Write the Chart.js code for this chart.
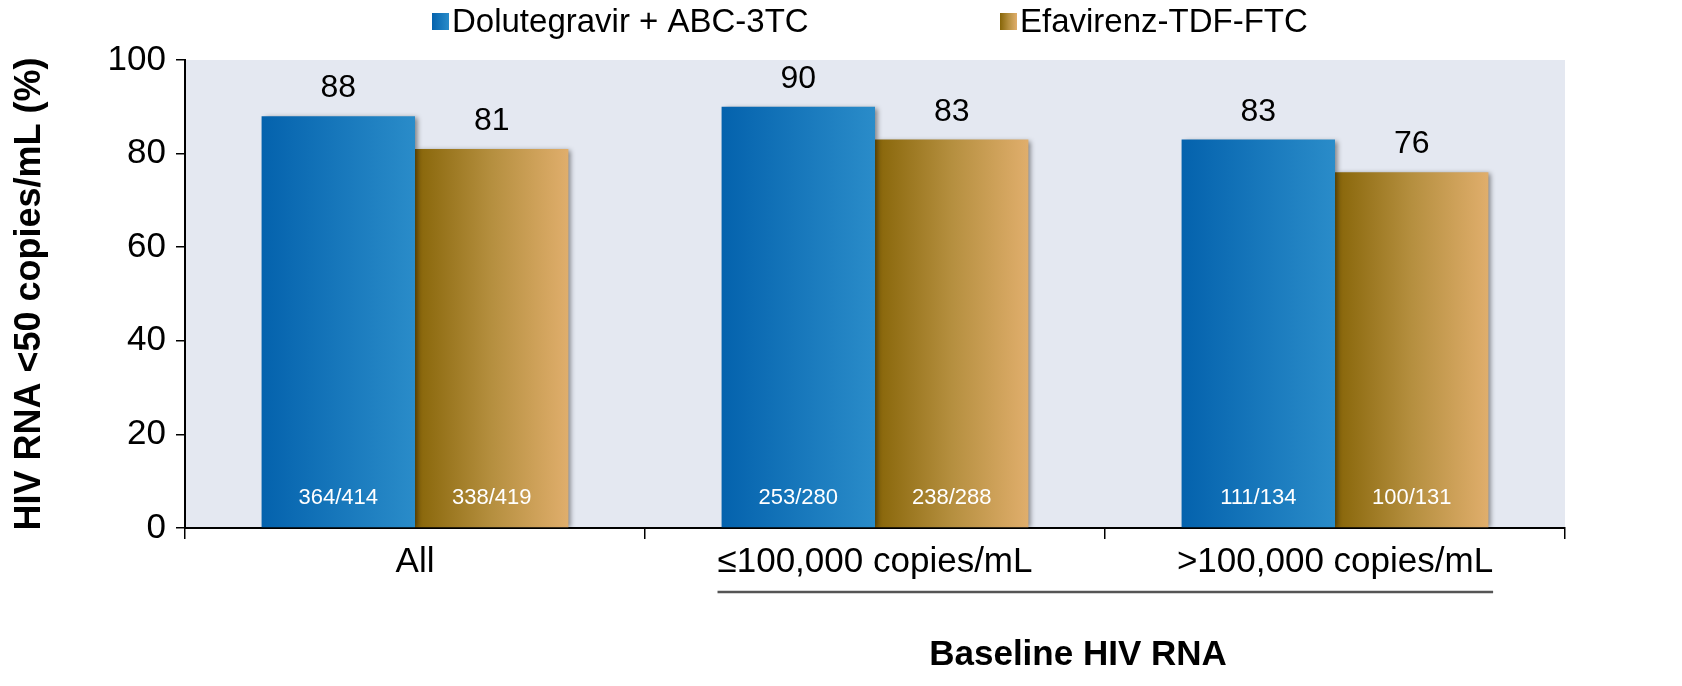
<!DOCTYPE html>
<html>
<head>
<meta charset="utf-8">
<script src="https://cdn.jsdelivr.net/npm/chart.js@4.4.1/dist/chart.umd.min.js"></script>
<style>
  body { margin: 0; background: #fff; }
  #myChart { display: block; }
</style>
</head>
<body>
<canvas id="myChart" width="1682" height="686"></canvas>
<script>
// データ
const categories = ['All', '\u2264100,000 copies/mL', '>100,000 copies/mL'];
const seriesNames = ['Dolutegravir + ABC-3TC', 'Efavirenz-TDF-FTC'];
const dtgValues = [88, 90, 83];
const efvValues = [81, 83, 76];
const dtgCounts = ['364/414', '253/280', '111/134'];
const efvCounts = ['338/419', '238/288', '100/131'];
const yTicks = [0, 20, 40, 60, 80, 100];
const groupTitle = 'Baseline HIV RNA';
const yTitle = 'HIV RNA <50 copies/mL (%)';

const FONT = 'Arial, "Liberation Sans", sans-serif';

/**
 * グラデーション
 */
function blueGrad(ctx, x0, x1) {
  const g = ctx.createLinearGradient(x0, 0, x1, 0);
  g.addColorStop(0, '#0462ad');
  g.addColorStop(1, '#2a8cc9');
  return g;
}
function goldGrad(ctx, x0, x1) {
  const g = ctx.createLinearGradient(x0, 0, x1, 0);
  g.addColorStop(0, '#876508');
  g.addColorStop(0.5, '#b58f3f');
  g.addColorStop(1, '#e0ae6c');
  return g;
}

const barLook = {
  id: 'barLook',
  beforeDraw(chart) {
    const { ctx, chartArea: a } = chart;
    ctx.save();
    ctx.fillStyle = '#e4e8f1';
    ctx.fillRect(a.left, a.top, a.right - a.left, a.bottom - a.top);
    ctx.restore();
  },
  beforeDatasetsDraw(chart) {
    const ctx = chart.ctx;
    chart.data.datasets.forEach((ds, i) => {
      chart.getDatasetMeta(i).data.forEach(el => {
        const x0 = el.x - el.width / 2, x1 = el.x + el.width / 2;
        // 要素ごとにoptionsを複製してからグラデーションを設定
        el.options = Object.assign({}, el.options, {
          backgroundColor: i === 0 ? blueGrad(ctx, x0, x1) : goldGrad(ctx, x0, x1),
        });
      });
    });
  },
  beforeDatasetDraw(chart) {
    const ctx = chart.ctx;
    ctx.save();
    ctx.shadowColor = 'rgba(0,0,0,0.45)';
    ctx.shadowBlur = 5;
    ctx.shadowOffsetX = 3;
    ctx.shadowOffsetY = 1;
  },
  afterDatasetDraw(chart) {
    chart.ctx.restore();
  },
  afterDraw(chart) {
    const ctx = chart.ctx;
    const x = chart.scales.x;
    const a = chart.chartArea;
    ctx.save();
    // 値ラベル
    ctx.textAlign = 'center';
    chart.data.datasets.forEach((ds, i) => {
      const counts = i === 0 ? dtgCounts : efvCounts;
      chart.getDatasetMeta(i).data.forEach((el, j) => {
        ctx.fillStyle = '#000';
        ctx.font = '32px ' + FONT;
        ctx.textBaseline = 'alphabetic';
        ctx.fillText(ds.data[j], el.x, el.y - 19);
        ctx.fillStyle = '#fff';
        ctx.font = '22px ' + FONT;
        ctx.textBaseline = 'middle';
        ctx.fillText(counts[j], el.x, a.bottom - 30);
      });
    });
    // 凡例
    ctx.textBaseline = 'middle';
    ctx.textAlign = 'left';
    ctx.font = '33px ' + FONT;
    const legendX = [432, 1000];
    seriesNames.forEach((name, i) => {
      const bx = legendX[i], by = 13, s = 17;
      ctx.fillStyle = i === 0 ? blueGrad(ctx, bx, bx + s) : goldGrad(ctx, bx, bx + s);
      ctx.fillRect(bx, by, s, s);
      ctx.fillStyle = '#000';
      ctx.fillText(name, bx + s + 3, by + s / 2 + 1);
    });
    // Baseline HIV RNA
    ctx.font = '35px ' + FONT;
    const w1 = ctx.measureText(categories[1]).width;
    const w2 = ctx.measureText(categories[2]).width;
    const lx0 = x.getPixelForValue(1) - w1 / 2;
    const lx1 = x.getPixelForValue(2) + w2 / 2;
    ctx.strokeStyle = '#555';
    ctx.lineWidth = 2.5;
    ctx.beginPath();
    ctx.moveTo(lx0, 592);
    ctx.lineTo(lx1, 592);
    ctx.stroke();
    ctx.fillStyle = '#000';
    ctx.font = 'bold 35px ' + FONT;
    ctx.textAlign = 'center';
    ctx.fillText(groupTitle, x.getPixelForValue(1.5) - 27, 655);
    ctx.restore();
  }
};

const data = {
  labels: categories,
  datasets: [
    { label: seriesNames[0], data: dtgValues, backgroundColor: () => '#1877bd', borderWidth: 0 },
    { label: seriesNames[1], data: efvValues, backgroundColor: () => '#b28c3c', borderWidth: 0 },
  ],
};

const config = {
  type: 'bar',
  data: data,
  plugins: [barLook],
  options: {
    responsive: false,
    animation: false,
    devicePixelRatio: 1,
    categoryPercentage: 0.667,
    barPercentage: 1.0,
    layout: { padding: { top: 60, right: 117, left: 0, bottom: 0 } },
    plugins: { legend: { display: false }, tooltip: { enabled: false } },
    scales: {
      x: {
        afterFit: s => { s.height = 158; },
        grid: { drawOnChartArea: false, tickLength: 11, color: '#000', lineWidth: 1.5 },
        border: { color: '#000', width: 2 },
        ticks: { color: '#000', font: { size: 35, family: FONT }, padding: 2, maxRotation: 0 },
      },
      y: {
        min: 0,
        max: 100,
        afterFit: s => { s.width = 185; },
        afterBuildTicks: s => { s.ticks = yTicks.map(v => ({ value: v })); },
        grid: { drawOnChartArea: false, tickLength: 9, color: '#000', lineWidth: 1.5 },
        border: { color: '#000', width: 2 },
        ticks: { color: '#000', font: { size: 35, family: FONT }, padding: 10 },
        title: {
          display: true,
          text: yTitle,
          color: '#000',
          font: { size: 36, weight: 'bold', family: FONT },
          padding: { top: 8, bottom: 0 },
        },
      },
    },
  },
};

const myChart = new Chart(document.getElementById('myChart'), config);
</script>
</body>
</html>
